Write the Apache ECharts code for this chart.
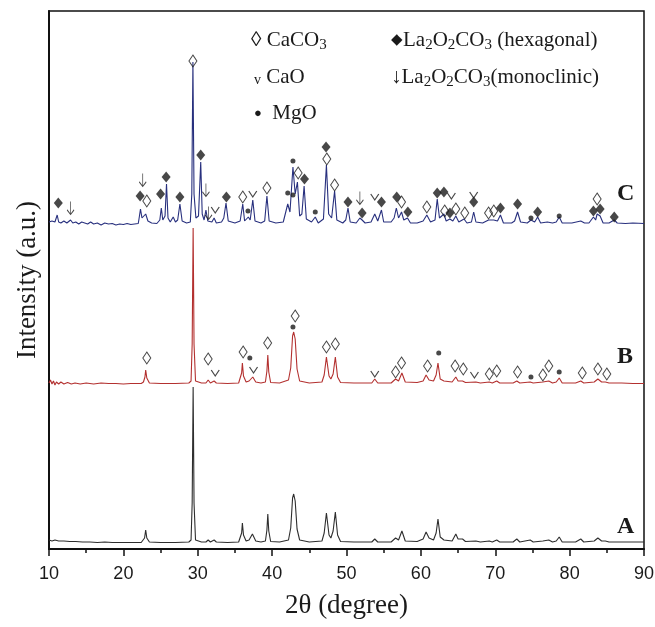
<!DOCTYPE html>
<html>
<head>
<meta charset="utf-8">
<script src="https://cdn.jsdelivr.net/npm/echarts@6/dist/echarts.min.js"></script>
<style>html,body{margin:0;padding:0;background:#fff;}#chart{width:655px;height:627px;}</style>
</head>
<body>
<div id="chart"></div>
<script>
// ---- Data (2θ, intensity above each pattern's own baseline) ----
const patternA = [[10,3],[10.4,2],[10.8,3],[11.3,2],[12,2],[12.8,1.5],[13.6,1.5],[14.5,1],[15.5,1],[16.5,0.5],[17.5,1],[18.5,0.5],[19.5,0.5],[20.5,0.5],[21.5,0.5],[22.4,0.5],
[22.6,1],[22.85,5],[23.0,13],[23.15,5],[23.5,1],[25,0.5],[27,0.5],[28.8,1],
[29.1,3],[29.25,40],[29.38,156],[29.5,40],[29.7,3],
[30.5,1],[31.1,1],[31.4,3],[31.7,1],[32.2,3],[32.5,1],[34,0.5],[35.5,1],
[35.7,2],[35.9,10],[36.0,20],[36.15,8],[36.5,2],[36.9,3],[37.35,9],[37.8,2],[38.5,1],
[39.1,2],[39.3,13],[39.42,29],[39.55,12],[39.8,1.5],[41,1],[42.2,3],
[42.5,15],[42.75,45],[42.9,49],[43.1,42],[43.35,14],[43.7,3],[45,1],[46.7,2],
[47.0,10],[47.3,30],[47.65,8],[47.9,5],[48.2,12],[48.5,31],[48.8,8],[49.2,1.5],
[51,1],[53.4,1],[53.8,4],[54.2,1],[56,1],[56.6,5],[57.0,3],[57.45,12],[57.9,2],[59.5,1.5],[60.3,4],[60.7,11],[61.1,5],[61.7,3],[62.05,10],[62.3,24],[62.6,6],[63.1,3],[64.2,2],[64.7,9],[65.0,4],[65.6,4],[66,1.5],[67.4,2],[68,1],[69.2,2],[69.6,1],[70.2,3],[70.6,1],[72.4,1],[72.9,4],[73.3,1],[74.7,3],[75.1,1],[76.4,2],[77.2,3],[77.7,1],[78.2,2],[78.6,6],[79,1],[80.8,1],[81.5,4],[81.9,1],[83.3,2],[83.8,5],[84.3,2],[84.8,2],[85.3,1],[87,1],[88.5,1],[90,1]];

const patternB = [[10,1],[10.2,4],[10.4,0],[10.6,3],[10.8,-1],[11,2],[11.3,0],[11.6,2],[12,0],[12.5,1.5],[13,0],[13.5,1],[14.2,0],[15,1],[16,0],[17,1],[18,0.5],[19,0.5],[20,0],[21,0.5],[22.4,0.5],
[22.7,2],[22.9,7],[23.0,14],[23.15,6],[23.5,1],[25,0.5],[27,0.5],[28.8,1],
[29.1,3],[29.25,40],[29.38,156],[29.5,40],[29.7,3],
[30.5,1],[31.1,1],[31.4,4],[31.7,1],[32.2,3],[32.5,1],[34,0.5],[35.5,1],
[35.7,2],[35.9,11],[36.0,21],[36.15,8],[36.5,2],[36.9,3],[37.4,7],[37.8,2],[38.5,1],
[39.1,2],[39.3,13],[39.42,29],[39.55,12],[39.8,1.5],[41,1],[42.2,4],
[42.5,16],[42.75,48],[42.9,52],[43.1,45],[43.35,15],[43.7,3],[45,1],[46.7,2],
[47.0,9],[47.3,27],[47.65,8],[47.9,5],[48.2,10],[48.5,27],[48.8,7],[49.2,1.5],
[51,1],[53.4,1],[53.8,5],[54.2,1],[56,1],[56.6,5],[57.0,3],[57.45,11],[57.9,2],[59.5,1.5],[60.3,3],[60.7,9],[61.1,4],[61.7,3],[62.05,9],[62.3,21],[62.6,5],[63.1,3],[64.2,2],[64.7,7],[65.0,3],[65.6,3],[66,1.5],[67.4,2],[68,1],[69.2,2],[69.6,1],[70.2,3],[70.6,1],[72.4,1],[72.9,3],[73.3,1],[74.7,2],[75.1,1],[76.4,2],[77.2,3],[77.7,1],[78.2,2],[78.6,6],[79,1],[80.8,1],[81.5,3],[81.9,1],[83.3,2],[83.8,5],[84.3,2],[84.8,2],[85.3,1],[87,1],[88.5,0.5],[90,0.5]];

const patternC = [[10,2],[10.2,0],[10.4,3],[10.6,1],[10.8,2],[11.1,9],[11.3,2],[11.6,1],[12,3],[12.4,1],[12.9,4],[13.2,1],[13.6,2],[14,0],[14.4,2],[14.8,1],[15.2,0],[15.6,2],[16,0],[16.5,1],[17,-1],[17.5,1],[18,0],[18.5,0.5],[19,-1],[19.5,0],[20,-0.5],[20.5,0.5],[21,-0.5],[21.5,0],[22,0.5],
[22.1,5],[22.3,15],[22.5,6],[22.7,4],[23.0,10],[23.3,3],[23.8,1],[24.5,0.5],[24.9,4],[25.1,16],[25.3,4],[25.6,8],[25.8,40],[26.0,6],[26.3,2],[26.7,7],[27.0,2],[27.3,4],[27.6,20],[27.9,3],[28.5,1],
[29.0,2],[29.2,30],[29.35,162],[29.5,30],[29.75,6],[30.1,8],[30.4,62],[30.6,10],[30.85,4],[31.1,14],[31.35,3],[31.6,5],[31.9,2],[32.2,6],[32.5,1],[33.2,2],[33.5,6],[33.8,21],[34.1,3],[35,1],
[35.7,3],[36.05,20],[36.3,3],[36.8,7],[37.05,4],[37.4,24],[37.7,3],[38.5,1],[39.0,3],[39.3,28],[39.6,3],[40.5,1],[41.5,2],
[42.1,20],[42.4,12],[42.8,57],[43.1,30],[43.4,42],[43.7,8],[44.0,10],[44.3,38],[44.6,5],[45.3,2],[45.8,7],[46.2,1],[46.9,5],[47.3,59],[47.6,10],[48.0,6],[48.4,33],[48.7,4],[49.5,1],
[49.9,4],[50.2,16],[50.5,2],[51.3,1],[51.8,6],[52.1,4],[52.5,1],[53.3,2],[53.8,10],[54.2,3],[54.7,14],[55.0,2],[56,2],[56.4,6],[56.7,16],[57.0,6],[57.4,12],[57.7,4],[58.2,6],[58.6,1],[59.5,1],
[60.3,3],[60.8,9],[61.3,2],[61.9,4],[62.2,25],[62.5,6],[63.1,10],[63.4,3],[63.9,5],[64.3,3],[64.7,8],[65.1,2],[65.8,5],[66.2,1],[66.8,2],[67.1,12],[67.4,2],[68.3,1],[69.1,4],[69.8,4],[70.3,3],[70.7,9],[71.1,1],
[72.2,1],[72.6,3],[73.0,12],[73.4,2],[74.3,1],[74.8,4],[75.3,2],[75.7,7],[76.1,1],[77,2],[77.7,1],[78.2,2],[78.6,7],[79,1],[80.3,1],[81.5,3],[82.0,1],[82.6,1],[83.2,7],[83.5,4],[83.7,10],[84.1,8],[84.5,1],[85.3,1],[86.0,4],[86.4,1],[87.5,0.5],[88.5,1],[90,0.5]];

// Vertical stacking offsets (arbitrary units)
const offsetA = 6, offsetB = 165, offsetC = 325;

// Phase markers [2θ, height on the stacked intensity axis]
const markCaCO3 = [
  [23.15,348],[29.35,488],[36.05,352],[39.3,361],[43.5,376],[47.35,390],[48.4,364],[57.4,347],[60.8,342],[63.2,338],[64.7,340],[65.9,336],[69.1,336],[69.8,338],[83.7,350],
  [23.15,191],[31.4,190],[36.1,197],[39.4,206],[43.1,233],[47.3,202],[48.5,205],[56.6,177],[57.4,186],[60.9,183],[64.6,183],[65.7,180],[69.2,175],[70.2,178],[73.0,177],[76.4,174],[77.2,183],[81.7,176],[83.8,180],[85.0,175]
];
const markCaO = [
  [32.35,339],[37.4,355],[53.8,352],[64.1,353],[67.1,354],
  [32.35,176],[37.5,179],[53.8,175],[67.2,174]
];
const markMgO = [
  [36.75,338],[42.1,356],[42.8,354],[42.8,388],[45.8,337],[74.8,331],[78.6,333],
  [37.0,191],[42.8,222],[62.4,196],[74.8,172],[78.6,177]
];
const markHex = [
  [11.25,346],[22.25,353],[25.0,355],[25.75,372],[27.6,352],[30.4,394],[33.85,352],[44.35,370],[47.25,402],[50.2,347],[52.1,336],[54.7,347],[56.75,352],[58.25,337],[62.2,356],[63.1,357],[63.9,336],[67.1,347],[70.7,341],[73.0,345],[75.7,337],[83.2,338],[84.1,340],[86.0,332]
];
const markMono = [[12.9,341],[22.6,369],[31.1,359],[31.45,336],[51.8,351]];

const xTicks = {min:10, max:90, interval:10};
const sampleLabels = ['A','B','C'];

// ---- Chart ----
const chart = echarts.init(document.getElementById('chart'));
const shift = (arr, off) => arr.map(p => [p[0], p[1] + off]);
const serif = '"Liberation Serif","Times New Roman",serif';
const ink = '#1a1a1a';
const subStyle = {fontSize:15, fontFamily:serif, fill:ink, verticalAlign:'bottom', padding:[9,0,0,0]};

function markerSeries(data, symbol, size, filled) {
  return {
    type:'scatter', data, symbol, symbolSize:size, silent:true, z:5,
    itemStyle: filled ? {color:ink} : {color:'rgba(0,0,0,0)', borderColor:ink, borderWidth:1}
  };
}

const option = {
  animation:false,
  backgroundColor:'#fff',
  grid:{left:49, right:11, top:11, bottom:78, outerBoundsMode:'none', containLabel:false,
        show:true, borderColor:'#111', borderWidth:1.5, backgroundColor:'transparent'},
  xAxis:{
    type:'value', min:xTicks.min, max:xTicks.max, interval:xTicks.interval,
    name:'2θ (degree)', nameLocation:'middle', nameGap:43,
    nameTextStyle:{fontFamily:serif, fontSize:27, color:ink},
    axisLine:{lineStyle:{color:'#111', width:2}},
    axisTick:{inside:false, length:7, lineStyle:{color:'#111', width:1.5}},
    minorTick:{show:true, splitNumber:2, length:4, lineStyle:{color:'#111', width:1.5}},
    axisLabel:{fontFamily:'"Liberation Sans",Arial,sans-serif', fontSize:18, color:ink, margin:16},
    splitLine:{show:false}
  },
  yAxis:{
    type:'value', min:0, max:538,
    name:'Intensity (a.u.)', nameLocation:'middle', nameGap:8,
    nameTextStyle:{fontFamily:serif, fontSize:27, color:ink},
    axisLine:{show:true, lineStyle:{color:'#111', width:2}},
    axisTick:{show:false}, axisLabel:{show:false}, splitLine:{show:false}
  },
  series:[
    {type:'line', data:shift(patternA, offsetA), showSymbol:false, lineStyle:{color:'#2e2e2e', width:1.1}, z:2},
    {type:'line', data:shift(patternB, offsetB), showSymbol:false, lineStyle:{color:'#b3302f', width:1.1}, z:2},
    {type:'line', data:shift(patternC, offsetC), showSymbol:false, lineStyle:{color:'#28307e', width:1.1}, z:2},
    markerSeries(markCaCO3, 'diamond', [8,12], false),
    markerSeries(markCaO, 'path://M0,0L5,7L10,0', [8,6], false),
    markerSeries(markMgO, 'circle', 5, true),
    markerSeries(markHex, 'diamond', [9,11], true),
    markerSeries(markMono, 'path://M5,0L5,14M1,9L5,14L9,9', [7,13], false)
  ],
  graphic:[
    {type:'text', left:251, top:30, style:{text:'◊ CaCO{s|3}', font:'21px '+serif, fill:ink, rich:{s:subStyle}}},
    {type:'text', left:254, top:67, style:{text:'{v|v} CaO', font:'21px '+serif, fill:ink,
      rich:{v:{fontSize:14, fontFamily:serif, fill:ink, verticalAlign:'bottom', padding:[0,0,1,0]}}}},
    {type:'text', left:254, top:103, style:{text:'{d|●}  MgO', font:'21px '+serif, fill:ink,
      rich:{d:{fontSize:13, fontFamily:serif, fill:ink}}}},
    {type:'text', left:391, top:30, style:{text:'{d|◆}La{s|2}O{s|2}CO{s|3} (hexagonal)', font:'21px '+serif, fill:ink,
      rich:{s:subStyle, d:{fontSize:15, fontFamily:serif, fill:ink}}}},
    {type:'text', left:391, top:67, style:{text:'↓La{s|2}O{s|2}CO{s|3}(monoclinic)', font:'21px '+serif, fill:ink, rich:{s:subStyle}}},
    {type:'text', left:617, top:515, style:{text:sampleLabels[0], font:'bold 24px '+serif, fill:ink}},
    {type:'text', left:617, top:345, style:{text:sampleLabels[1], font:'bold 24px '+serif, fill:ink}},
    {type:'text', left:617, top:182, style:{text:sampleLabels[2], font:'bold 24px '+serif, fill:ink}}
  ]
};
chart.setOption(option);
</script>
</body>
</html>
